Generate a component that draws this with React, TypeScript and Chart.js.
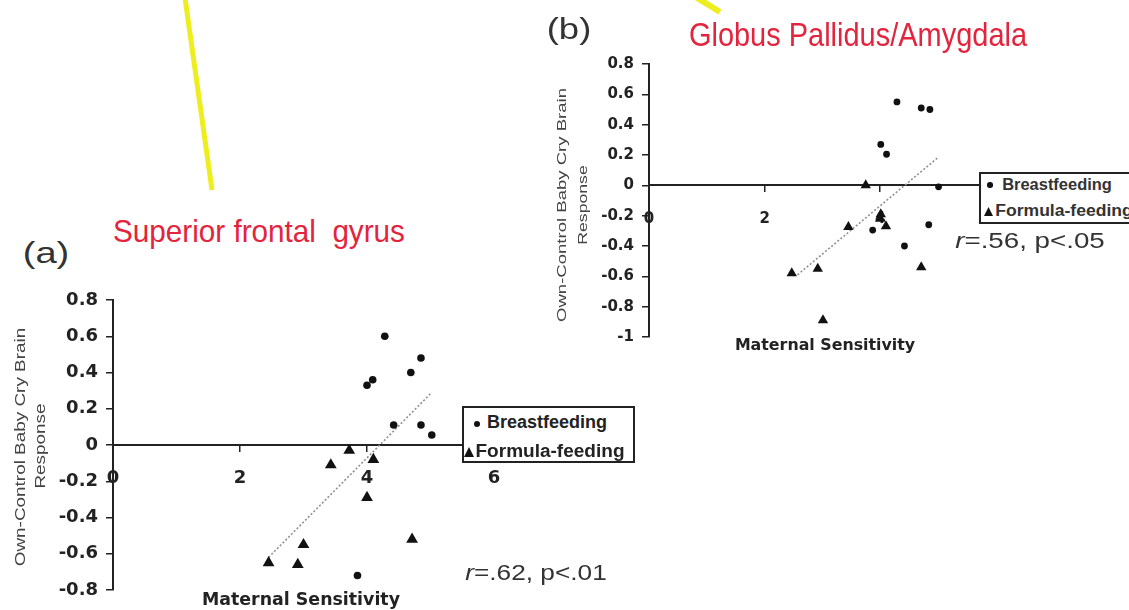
import React, { useEffect, useLayoutEffect, useRef } from 'react';
import { Chart, registerables } from 'chart.js';

Chart.register(...registerables);

// ---------- Panel (a): Superior frontal gyrus ----------
const breastAX = [4.28, 4.85, 4.69, 4.0, 4.09, 4.42, 4.85, 5.02, 3.85];
const breastAY = [0.6, 0.48, 0.4, 0.33, 0.36, 0.11, 0.11, 0.055, -0.72];
const formulaAX = [3.72, 3.43, 4.1, 4.0, 4.71, 3.0, 2.91, 2.45];
const formulaAY = [-0.03, -0.11, -0.08, -0.29, -0.52, -0.55, -0.66, -0.65];
const trendAX = [2.45, 5.02];
const trendAY = [-0.62, 0.29];
const yTicksA = [0.8, 0.6, 0.4, 0.2, 0, -0.2, -0.4, -0.6, -0.8];

// ---------- Panel (b): Globus Pallidus/Amygdala ----------
const breastBX = [4.29, 4.71, 4.86, 4.01, 4.11, 5.01, 3.87, 4.84, 4.42];
const breastBY = [0.55, 0.51, 0.5, 0.27, 0.205, -0.01, -0.295, -0.26, -0.4];
const formulaBX = [3.75, 4.01, 4.0, 4.1, 3.45, 2.47, 2.92, 4.71, 3.01];
const formulaBY = [0.0, -0.19, -0.22, -0.27, -0.275, -0.58, -0.55, -0.54, -0.89];
const trendBX = [2.57, 4.99];
const trendBY = [-0.59, 0.18];
const yTicksB = [0.8, 0.6, 0.4, 0.2, 0, -0.2, -0.4, -0.6, -0.8, -1];

const xTicks = [0, 2, 4, 6];

const seriesNames = ['Breastfeeding', 'Formula-feeding'];

type P = {
  left: number; top: number; width: number; height: number;
  padding: { left: number; top: number; right: number; bottom: number };
  yAxisWidth: number;
  bx: number[]; by: number[]; fx: number[]; fy: number[]; tx: number[]; ty: number[];
  yTicks: number[]; yMin: number; yMax: number;
  fontSize: number; xPad: number; circleR: number; triR: number;
};

function Scatter(p: P) {
  const ref = useRef<HTMLCanvasElement>(null);
  useEffect(() => {
    const pts = (xs: number[], ys: number[]) => xs.map((x, i) => ({ x, y: ys[i] }));
    const font = { family: 'DejaVu Sans', size: p.fontSize, weight: 'bold' as const };
    const chart = new Chart(ref.current!, {
      type: 'scatter',
      data: {
        datasets: [
          {
            label: 'trend',
            type: 'line' as any,
            data: pts(p.tx, p.ty),
            borderColor: '#909090',
            borderWidth: 1.6,
            borderDash: [2, 2],
            pointRadius: 0,
            fill: false,
            showLine: true,
            order: 3,
          } as any,
          {
            label: seriesNames[0],
            data: pts(p.bx, p.by),
            pointStyle: 'circle',
            pointRadius: p.circleR,
            backgroundColor: '#111',
            borderColor: '#111',
            borderWidth: 0,
          },
          {
            label: seriesNames[1],
            data: pts(p.fx, p.fy),
            pointStyle: 'triangle',
            pointRadius: p.triR,
            backgroundColor: '#111',
            borderColor: '#111',
            borderWidth: 0,
          },
        ],
      },
      options: {
        animation: false,
        responsive: true,
        maintainAspectRatio: false,
        events: [],
        layout: { padding: p.padding },
        plugins: { legend: { display: false }, tooltip: { enabled: false } },
        scales: {
          x: {
            type: 'linear',
            min: 0,
            max: 6,
            position: { y: 0 } as any,
            afterBuildTicks: (s: any) => { s.ticks = xTicks.map((v) => ({ value: v })); },
            ticks: { font, color: '#222', padding: p.xPad, autoSkip: false, maxRotation: 0, callback: (v: any) => String(v) },
            grid: { drawOnChartArea: false, drawTicks: true, tickLength: 6, color: '#222', lineWidth: 1.5 },
            border: { display: true, color: '#222', width: 2 },
          },
          y: {
            type: 'linear',
            min: p.yMin,
            max: p.yMax,
            position: 'left',
            afterBuildTicks: (s: any) => { s.ticks = p.yTicks.map((v) => ({ value: v })); },
            afterFit: (s: any) => { s.width = p.yAxisWidth; },
            ticks: { font, color: '#222', padding: 8, autoSkip: false, callback: (v: any) => String(Math.round(Number(v) * 10) / 10) },
            grid: { drawOnChartArea: false, drawTicks: true, tickLength: 7, color: '#222', lineWidth: 1.5 },
            border: { display: true, color: '#222', width: 2 },
          },
        },
      },
    });
    return () => chart.destroy();
  }, []);
  return (
    <div style={{ position: 'absolute', left: p.left, top: p.top, width: p.width, height: p.height }}>
      <canvas ref={ref} />
    </div>
  );
}

type T = {
  cx: number; cy: number; w: number; size: number; weight?: string; family?: string;
  color?: string; rot?: number; children: React.ReactNode;
};

function FitText({ cx, cy, w, size, weight = 'normal', family = "'Liberation Sans', Arial, sans-serif", color = '#222', rot = 0, children }: T) {
  const ref = useRef<HTMLSpanElement>(null);
  useLayoutEffect(() => {
    const el = ref.current!;
    const apply = () => {
      const k = w / el.offsetWidth;
      el.style.transform = `translate(-50%,-50%) rotate(${rot}deg) scaleX(${k})`;
    };
    apply();
    (document as any).fonts?.ready?.then(apply);
  }, []);
  return (
    <span
      ref={ref}
      style={{
        position: 'absolute', left: cx, top: cy, fontSize: size, fontWeight: weight as any,
        fontFamily: family, color, lineHeight: 1.2, whiteSpace: 'pre',
        transform: `translate(-50%,-50%) rotate(${rot}deg)`,
      }}
    >
      {children}
    </span>
  );
}

function Dot({ x, y, r }: { x: number; y: number; r: number }) {
  return <div style={{ position: 'absolute', left: x - r, top: y - r, width: 2 * r, height: 2 * r, borderRadius: '50%', background: '#111' }} />;
}

function Tri({ x, y, s }: { x: number; y: number; s: number }) {
  return (
    <svg style={{ position: 'absolute', left: x - s / 2, top: y - s / 2 }} width={s} height={s}>
      <polygon points={`${s / 2},0 ${s},${s} 0,${s}`} fill="#111" />
    </svg>
  );
}

function Box({ l, t, w, h }: { l: number; t: number; w: number; h: number }) {
  return <div style={{ position: 'absolute', left: l, top: t, width: w, height: h, border: '2px solid #222', background: '#fff', boxSizing: 'border-box' }} />;
}

export default function App() {
  const red = '#e4233c';
  const legendFont = "'Liberation Sans', Arial, sans-serif";
  return (
    <div style={{ position: 'fixed', left: 0, top: 0, width: 1129, height: 610, overflow: 'hidden', background: '#fff' }}>
      <svg style={{ position: 'absolute', left: 0, top: 0 }} width={1129} height={610}>
        <line x1={185} y1={-2} x2={212} y2={190} stroke="#eeee1e" strokeWidth={5} />
        <line x1={694} y1={-4} x2={720} y2={12} stroke="#eeee1e" strokeWidth={6} />
      </svg>

      <Scatter
        left={0} top={280} width={640} height={330}
        padding={{ left: 0, top: 20, right: 146, bottom: 20 }}
        yAxisWidth={113}
        bx={breastAX} by={breastAY} fx={formulaAX} fy={formulaAY} tx={trendAX} ty={trendAY}
        yTicks={yTicksA} yMin={-0.8} yMax={0.8}
        fontSize={18} xPad={17} circleR={3.8} triR={6.8}
      />
      <Scatter
        left={540} top={40} width={480} height={320}
        padding={{ left: 0, top: 24, right: 19, bottom: 23 }}
        yAxisWidth={109}
        bx={breastBX} by={breastBY} fx={formulaBX} fy={formulaBY} tx={trendBX} ty={trendBY}
        yTicks={yTicksB} yMin={-1} yMax={0.8}
        fontSize={15} xPad={19} circleR={3.4} triR={6}
      />

      {/* Legend (a) */}
      <Box l={462} t={406} w={173} h={57} />
      <Dot x={477} y={424} r={3} />
      <FitText cx={547} cy={423} w={120} size={18} weight="bold" family={legendFont}>{seriesNames[0]}</FitText>
      <Tri x={469} y={452} s={10} />
      <FitText cx={550} cy={452} w={149} size={18} weight="bold" family={legendFont}>{seriesNames[1]}</FitText>

      {/* Legend (b) */}
      <Box l={979} t={172} w={170} h={52} />
      <Dot x={990} y={185} r={2.7} />
      <FitText cx={1057} cy={185} w={110} size={16} weight="bold" family={legendFont} color="#333">{seriesNames[0]}</FitText>
      <Tri x={988} y={211} s={9} />
      <FitText cx={1064} cy={211} w={137} size={16} weight="bold" family={legendFont} color="#333">{seriesNames[1]}</FitText>

      {/* Panel labels & titles */}
      <FitText cx={46} cy={253} w={47} size={30} color="#333">(a)</FitText>
      <FitText cx={569} cy={29} w={45} size={30} color="#333">(b)</FitText>
      <FitText cx={259} cy={231} w={292} size={32} color={red}>{'Superior frontal  gyrus'}</FitText>
      <FitText cx={858} cy={35} w={338} size={33} color={red}>Globus Pallidus/Amygdala</FitText>

      {/* Axis titles */}
      <FitText cx={301} cy={599} w={198} size={18} weight="bold" family="'DejaVu Sans', sans-serif">Maternal Sensitivity</FitText>
      <FitText cx={825} cy={345} w={180} size={16} weight="bold" family="'DejaVu Sans', sans-serif">Maternal Sensitivity</FitText>
      <FitText cx={20} cy={447} w={239} size={14} rot={-90} color="#444">Own-Control Baby Cry Brain</FitText>
      <FitText cx={40} cy={446} w={85} size={14} rot={-90} color="#444">Response</FitText>
      <FitText cx={562} cy={205} w={234} size={13} rot={-90} color="#444">Own-Control Baby Cry Brain</FitText>
      <FitText cx={583} cy={205} w={80} size={13} rot={-90} color="#444">Response</FitText>

      {/* Statistics */}
      <FitText cx={536} cy={573} w={142} size={22} color="#333"><i>r</i>=.62, p&lt;.01</FitText>
      <FitText cx={1030} cy={241} w={150} size={22} color="#333"><i>r</i>=.56, p&lt;.05</FitText>
    </div>
  );
}
